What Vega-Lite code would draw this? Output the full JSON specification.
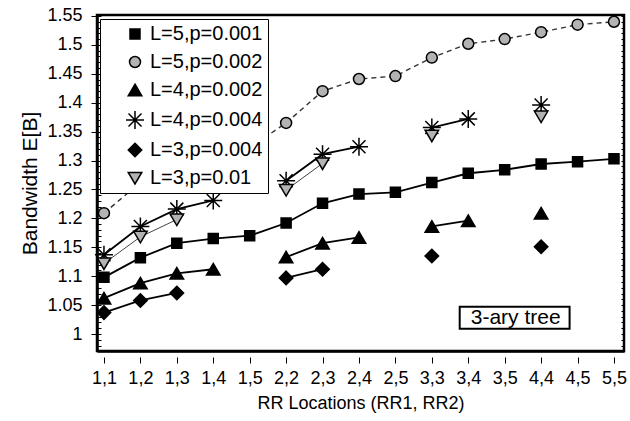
{
  "$schema": "https://vega.github.io/schema/vega-lite/v6.json",
  "width": 527,
  "height": 336,
  "autosize": "none",
  "padding": {"left": 97, "top": 15, "right": 6, "bottom": 70},
  "background": "white",
  "config": {
    "font": "Liberation Sans",
    "view": {"stroke": "black", "strokeWidth": 2.5},
    "axis": {
      "grid": false,
      "domainColor": "black",
      "domainWidth": 2.5,
      "tickColor": "black",
      "labelColor": "black",
      "titleColor": "black",
      "titleFontWeight": "normal",
      "labelFont": "Liberation Sans",
      "titleFont": "Liberation Sans"
    },
    "legend": {
      "orient": "none",
      "legendX": 3,
      "legendY": 4,
      "padding": 5,
      "symbolOffset": 20,
      "symbolSize": 100,
      "symbolStrokeWidth": 1.5,
      "labelOffset": 5,
      "labelFontSize": 20,
      "labelFont": "Liberation Sans",
      "labelColor": "black",
      "labelLimit": 300,
      "rowPadding": 8,
      "fillColor": "white",
      "strokeColor": "black"
    }
  },
  "data": {
    "values": [
      {"s": "L=5,p=0.001", "g": 1, "x": "1,1", "y": 1.098},
      {"s": "L=5,p=0.001", "g": 1, "x": "1,2", "y": 1.132},
      {"s": "L=5,p=0.001", "g": 1, "x": "1,3", "y": 1.157},
      {"s": "L=5,p=0.001", "g": 1, "x": "1,4", "y": 1.165},
      {"s": "L=5,p=0.001", "g": 1, "x": "1,5", "y": 1.170},
      {"s": "L=5,p=0.001", "g": 1, "x": "2,2", "y": 1.192},
      {"s": "L=5,p=0.001", "g": 1, "x": "2,3", "y": 1.226},
      {"s": "L=5,p=0.001", "g": 1, "x": "2,4", "y": 1.242},
      {"s": "L=5,p=0.001", "g": 1, "x": "2,5", "y": 1.245},
      {"s": "L=5,p=0.001", "g": 1, "x": "3,3", "y": 1.262},
      {"s": "L=5,p=0.001", "g": 1, "x": "3,4", "y": 1.278},
      {"s": "L=5,p=0.001", "g": 1, "x": "3,5", "y": 1.284},
      {"s": "L=5,p=0.001", "g": 1, "x": "4,4", "y": 1.294},
      {"s": "L=5,p=0.001", "g": 1, "x": "4,5", "y": 1.298},
      {"s": "L=5,p=0.001", "g": 1, "x": "5,5", "y": 1.303},

      {"s": "L=5,p=0.002", "g": 1, "x": "1,1", "y": 1.209},
      {"s": "L=5,p=0.002", "g": 1, "x": "1,2", "y": 1.262},
      {"s": "L=5,p=0.002", "g": 1, "x": "1,3", "y": 1.290},
      {"s": "L=5,p=0.002", "g": 1, "x": "1,4", "y": 1.308},
      {"s": "L=5,p=0.002", "g": 1, "x": "1,5", "y": 1.322},
      {"s": "L=5,p=0.002", "g": 1, "x": "2,2", "y": 1.365},
      {"s": "L=5,p=0.002", "g": 1, "x": "2,3", "y": 1.420},
      {"s": "L=5,p=0.002", "g": 1, "x": "2,4", "y": 1.441},
      {"s": "L=5,p=0.002", "g": 1, "x": "2,5", "y": 1.446},
      {"s": "L=5,p=0.002", "g": 1, "x": "3,3", "y": 1.478},
      {"s": "L=5,p=0.002", "g": 1, "x": "3,4", "y": 1.502},
      {"s": "L=5,p=0.002", "g": 1, "x": "3,5", "y": 1.510},
      {"s": "L=5,p=0.002", "g": 1, "x": "4,4", "y": 1.522},
      {"s": "L=5,p=0.002", "g": 1, "x": "4,5", "y": 1.535},
      {"s": "L=5,p=0.002", "g": 1, "x": "5,5", "y": 1.540},

      {"s": "L=4,p=0.002", "g": 1, "x": "1,1", "y": 1.062},
      {"s": "L=4,p=0.002", "g": 1, "x": "1,2", "y": 1.088},
      {"s": "L=4,p=0.002", "g": 1, "x": "1,3", "y": 1.105},
      {"s": "L=4,p=0.002", "g": 1, "x": "1,4", "y": 1.112},
      {"s": "L=4,p=0.002", "g": 2, "x": "2,2", "y": 1.133},
      {"s": "L=4,p=0.002", "g": 2, "x": "2,3", "y": 1.157},
      {"s": "L=4,p=0.002", "g": 2, "x": "2,4", "y": 1.167},
      {"s": "L=4,p=0.002", "g": 3, "x": "3,3", "y": 1.186},
      {"s": "L=4,p=0.002", "g": 3, "x": "3,4", "y": 1.196},
      {"s": "L=4,p=0.002", "g": 4, "x": "4,4", "y": 1.209},

      {"s": "L=4,p=0.004", "g": 1, "x": "1,1", "y": 1.137},
      {"s": "L=4,p=0.004", "g": 1, "x": "1,2", "y": 1.186},
      {"s": "L=4,p=0.004", "g": 1, "x": "1,3", "y": 1.216},
      {"s": "L=4,p=0.004", "g": 1, "x": "1,4", "y": 1.231},
      {"s": "L=4,p=0.004", "g": 2, "x": "2,2", "y": 1.265},
      {"s": "L=4,p=0.004", "g": 2, "x": "2,3", "y": 1.311},
      {"s": "L=4,p=0.004", "g": 2, "x": "2,4", "y": 1.324},
      {"s": "L=4,p=0.004", "g": 3, "x": "3,3", "y": 1.357},
      {"s": "L=4,p=0.004", "g": 3, "x": "3,4", "y": 1.372},
      {"s": "L=4,p=0.004", "g": 4, "x": "4,4", "y": 1.396},

      {"s": "L=3,p=0.004", "g": 1, "x": "1,1", "y": 1.037},
      {"s": "L=3,p=0.004", "g": 1, "x": "1,2", "y": 1.058},
      {"s": "L=3,p=0.004", "g": 1, "x": "1,3", "y": 1.071},
      {"s": "L=3,p=0.004", "g": 2, "x": "2,2", "y": 1.097},
      {"s": "L=3,p=0.004", "g": 2, "x": "2,3", "y": 1.112},
      {"s": "L=3,p=0.004", "g": 3, "x": "3,3", "y": 1.135},
      {"s": "L=3,p=0.004", "g": 4, "x": "4,4", "y": 1.151},

      {"s": "L=3,p=0.01", "g": 1, "x": "1,1", "y": 1.122},
      {"s": "L=3,p=0.01", "g": 1, "x": "1,2", "y": 1.168},
      {"s": "L=3,p=0.01", "g": 1, "x": "1,3", "y": 1.198},
      {"s": "L=3,p=0.01", "g": 2, "x": "2,2", "y": 1.249},
      {"s": "L=3,p=0.01", "g": 2, "x": "2,3", "y": 1.295},
      {"s": "L=3,p=0.01", "g": 3, "x": "3,3", "y": 1.343},
      {"s": "L=3,p=0.01", "g": 4, "x": "4,4", "y": 1.376}
    ]
  },
  "resolve": {"axis": {"y": "independent"}},
  "layer": [
    {
      "transform": [{"filter": {"field": "s", "oneOf": ["L=5,p=0.001", "L=4,p=0.002", "L=4,p=0.004", "L=3,p=0.004"]}}],
      "mark": {"type": "line", "stroke": "black", "strokeWidth": 1.8},
      "encoding": {
        "x": {
          "field": "x",
          "type": "nominal",
          "scale": {
            "type": "point",
            "domain": ["1,1", "1,2", "1,3", "1,4", "1,5", "2,2", "2,3", "2,4", "2,5", "3,3", "3,4", "3,5", "4,4", "4,5", "5,5"],
            "padding": 0.233,
            "align": 0.41
          },
          "axis": {
            "title": "RR Locations (RR1, RR2)",
            "titleFontSize": 18,
            "titlePadding": 7,
            "labelFontSize": 18,
            "labelAngle": 0,
            "labelPadding": 6,
            "labelOverlap": false,
            "labelBound": false,
            "labelFlush": false,
            "tickSize": 12,
            "tickWidth": 1,
            "tickDash": [0, 6, 6, 20]
          }
        },
        "y": {
          "field": "y",
          "type": "quantitative",
          "scale": {"domain": [0.9706, 1.5517], "nice": false, "zero": false},
          "axis": {
            "values": [1, 1.05, 1.1, 1.15, 1.2, 1.25, 1.3, 1.35, 1.4, 1.45, 1.5, 1.55],
            "format": "~g",
            "tickSize": 6,
            "tickWidth": 1,
            "labelFontSize": 18,
            "labelPadding": 9,
            "title": "Bandwidth E[B]",
            "titleFontSize": 21,
            "titlePadding": 6
          }
        },
        "detail": [{"field": "s", "type": "nominal"}, {"field": "g", "type": "nominal"}]
      }
    },
    {
      "transform": [{"filter": {"field": "s", "equal": "L=5,p=0.002"}}],
      "mark": {"type": "line", "stroke": "#333333", "strokeWidth": 1.4, "strokeDash": [5, 4]},
      "encoding": {
        "x": {"field": "x", "type": "nominal"},
        "y": {"field": "y", "type": "quantitative", "axis": null}
      }
    },
    {
      "transform": [{"filter": {"field": "s", "equal": "L=3,p=0.01"}}],
      "mark": {"type": "line", "stroke": "#444444", "strokeWidth": 1},
      "encoding": {
        "x": {"field": "x", "type": "nominal"},
        "y": {"field": "y", "type": "quantitative", "axis": null},
        "detail": {"field": "g", "type": "nominal"}
      }
    },
    {
      "mark": {"type": "point", "filled": true, "strokeWidth": 1.5, "size": 100, "opacity": 1},
      "encoding": {
        "x": {"field": "x", "type": "nominal"},
        "y": {
          "field": "y",
          "type": "quantitative",
          "axis": {
            "orient": "left",
            "values": [0.98, 0.99, 1, 1.01, 1.02, 1.03, 1.04, 1.05, 1.06, 1.07, 1.08, 1.09, 1.1, 1.11, 1.12, 1.13, 1.14, 1.15, 1.16, 1.17, 1.18, 1.19, 1.2, 1.21, 1.22, 1.23, 1.24, 1.25, 1.26, 1.27, 1.28, 1.29, 1.3, 1.31, 1.32, 1.33, 1.34, 1.35, 1.36, 1.37, 1.38, 1.39, 1.4, 1.41, 1.42, 1.43, 1.44, 1.45, 1.46, 1.47, 1.48, 1.49, 1.5, 1.51, 1.52, 1.53, 1.54, 1.55],
            "tickSize": -4,
            "tickWidth": 1,
            "labels": false,
            "domain": false,
            "title": null
          }
        },
        "shape": {
          "field": "s",
          "type": "nominal",
          "scale": {
            "domain": ["L=5,p=0.001", "L=5,p=0.002", "L=4,p=0.002", "L=4,p=0.004", "L=3,p=0.004", "L=3,p=0.01"],
            "range": [
              "M-1,-1H1V1H-1Z",
              "M1.1,0A1.1,1.1,0,1,1,-1.1,0A1.1,1.1,0,1,1,1.1,0Z",
              "M0,-1.15L1.35,1.15L-1.35,1.15Z",
              "M-1.8,0H1.8M0,-1.8V1.8M-1.3,-1.3L1.3,1.3M-1.3,1.3L1.3,-1.3",
              "M0,-1.35L1.35,0L0,1.35L-1.35,0Z",
              "M-1.35,-1.1H1.35L0,1.2Z"
            ]
          },
          "legend": {"title": null}
        },
        "fill": {
          "field": "s",
          "type": "nominal",
          "scale": {
            "domain": ["L=5,p=0.001", "L=5,p=0.002", "L=4,p=0.002", "L=4,p=0.004", "L=3,p=0.004", "L=3,p=0.01"],
            "range": ["black", "#b3b3b3", "black", "black", "black", "#b3b3b3"]
          },
          "legend": {"title": null}
        },
        "stroke": {
          "field": "s",
          "type": "nominal",
          "scale": {
            "domain": ["L=5,p=0.001", "L=5,p=0.002", "L=4,p=0.002", "L=4,p=0.004", "L=3,p=0.004", "L=3,p=0.01"],
            "range": ["black", "black", "black", "black", "black", "black"]
          },
          "legend": {"title": null}
        }
      }
    },
    {
      "data": {"values": [{"label": "3-ary tree", "x": "3,5", "y": 1.028}]},
      "mark": {"type": "point", "shape": "M-4.09,-1H5.9V1H-4.09Z", "size": 484, "filled": true, "fill": "white", "stroke": "black", "strokeWidth": 2, "opacity": 1},
      "encoding": {
        "x": {"field": "x", "type": "nominal"},
        "y": {
          "field": "y",
          "type": "quantitative",
          "axis": {
            "orient": "right",
            "values": [0.98, 0.99, 1, 1.01, 1.02, 1.03, 1.04, 1.05, 1.06, 1.07, 1.08, 1.09, 1.1, 1.11, 1.12, 1.13, 1.14, 1.15, 1.16, 1.17, 1.18, 1.19, 1.2, 1.21, 1.22, 1.23, 1.24, 1.25, 1.26, 1.27, 1.28, 1.29, 1.3, 1.31, 1.32, 1.33, 1.34, 1.35, 1.36, 1.37, 1.38, 1.39, 1.4, 1.41, 1.42, 1.43, 1.44, 1.45, 1.46, 1.47, 1.48, 1.49, 1.5, 1.51, 1.52, 1.53, 1.54, 1.55],
            "tickSize": -3,
            "tickWidth": 1,
            "labels": false,
            "domain": false,
            "title": null
          }
        }
      }
    },
    {
      "data": {"values": [{"label": "3-ary tree", "x": "3,5", "y": 1.028}]},
      "mark": {"type": "text", "dx": 11, "fontSize": 21, "align": "center", "baseline": "middle", "color": "black"},
      "encoding": {
        "x": {"field": "x", "type": "nominal"},
        "y": {"field": "y", "type": "quantitative", "axis": null},
        "text": {"field": "label"}
      }
    }
  ]
}
